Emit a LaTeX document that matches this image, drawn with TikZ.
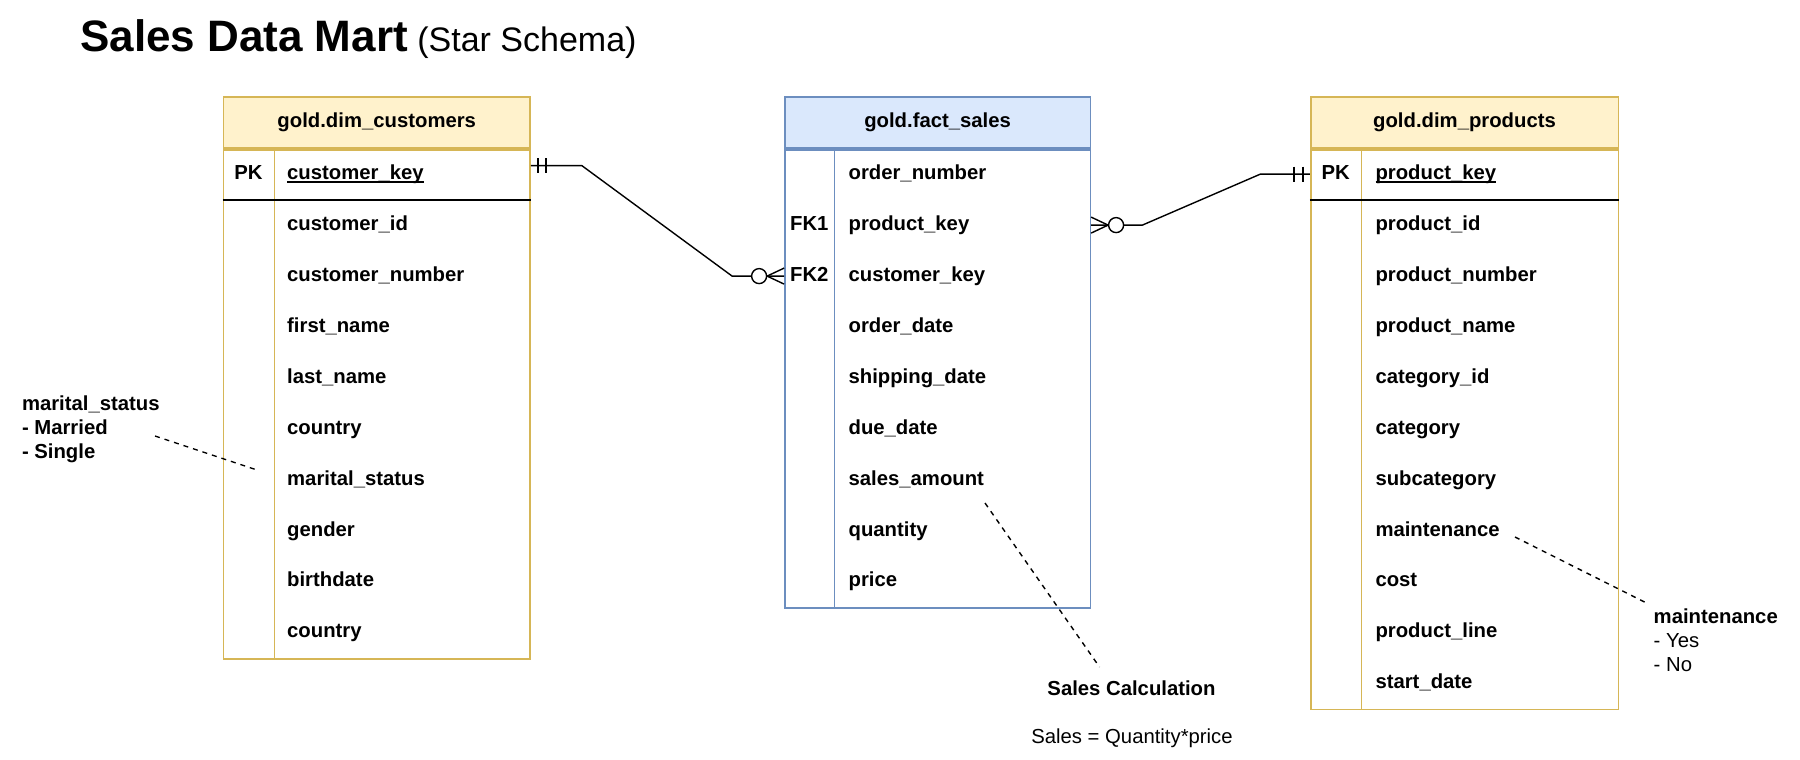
\documentclass[tikz,border=0pt]{standalone}
\usepackage{fontspec}
\setmainfont{Liberation Sans}
\usetikzlibrary{calc}
\definecolor{dimline}{HTML}{D6B656}
\definecolor{dimfill}{HTML}{FFF2CC}
\definecolor{factline}{HTML}{6C8EBF}
\definecolor{factfill}{HTML}{DAE8FC}
\newcommand{\fieldfont}{\fontsize{20.3}{24}\selectfont\bfseries}
\newcommand{\plainfont}{\fontsize{20.3}{24}\selectfont}
\newcommand{\pkul}[1]{\setbox0=\hbox{#1}\rlap{\rule[-2.9pt]{\wd0}{1.3pt}}\box0}

\begin{document}
\begin{tikzpicture}[x=1pt,y=-1pt,
  hdr/.style={anchor=north west,minimum height=50.9pt,inner sep=0pt,font=\fieldfont,line width=1.6pt},
  body/.style={anchor=north west,inner sep=0pt,line width=1.6pt,fill=white},
  fld/.style={anchor=base west,inner sep=0pt,font=\fieldfont},
  keylbl/.style={anchor=base,inner sep=0pt,font=\fieldfont},
  rel/.style={line width=1.4pt},
  notes/.style={line width=1.4pt,dash pattern=on 5pt off 5pt}]
\useasboundingbox (0,0) rectangle (1800,760);

% title
\node[anchor=base west,inner sep=0pt] (title) at (80,51.5)
  {{\fontsize{44}{50}\selectfont\bfseries Sales Data Mart}{\fontsize{34}{40}\selectfont\ (Star Schema)}};

% customers
\node[hdr,draw=dimline,fill=dimfill,minimum width=306.5pt] (cust) at (222.7,96.4) {gold.dim\_customers};
\node[body,draw=dimline,minimum width=306.5pt,minimum height=509pt] (custbody) at (cust.south west) {};
\draw[dimline,line width=1.6pt] ($(custbody.north west)+(51.7,0)$) -- ($(custbody.south west)+(51.7,0)$);
\draw[line width=1.8pt] ($(custbody.north west)+(0,50.9)$) -- ($(custbody.north east)+(0,50.9)$);
\node[keylbl] (ckey) at (248.5,179.7) {PK};
\foreach \f [count=\i] in {\pkul{customer\_key},customer\_id,customer\_number,first\_name,last\_name,country,marital\_status,gender,birthdate,country}
  \node[fld] (c\i) at (287,{128.8+50.9*\i}) {\f};

% fact
\node[hdr,draw=factline,fill=factfill,minimum width=305.4pt] (fact) at (784.1,96.4) {gold.fact\_sales};
\node[body,draw=factline,minimum width=305.4pt,minimum height=458.1pt] (factbody) at (fact.south west) {};
\draw[factline,line width=1.6pt] ($(factbody.north west)+(50.5,0)$) -- ($(factbody.south west)+(50.5,0)$);
\node[keylbl] (fk1) at (809.3,230.6) {FK1};
\node[keylbl] (fk2) at (809.3,281.5) {FK2};
\foreach \f [count=\i] in {order\_number,product\_key,customer\_key,order\_date,shipping\_date,due\_date,sales\_amount,quantity,price}
  \node[fld] (f\i) at (848.4,{128.8+50.9*\i}) {\f};

% products
\node[hdr,draw=dimline,fill=dimfill,minimum width=307.6pt] (prod) at (1309.9,96.4) {gold.dim\_products};
\node[body,draw=dimline,minimum width=307.6pt,minimum height=559.9pt] (prodbody) at (prod.south west) {};
\draw[dimline,line width=1.6pt] ($(prodbody.north west)+(51.6,0)$) -- ($(prodbody.south west)+(51.6,0)$);
\draw[line width=1.8pt] ($(prodbody.north west)+(0,50.9)$) -- ($(prodbody.north east)+(0,50.9)$);
\node[keylbl] (pkey) at (1335.7,179.7) {PK};
\foreach \f [count=\i] in {\pkul{product\_key},product\_id,product\_number,product\_name,category\_id,category,subcategory,maintenance,cost,product\_line,start\_date}
  \node[fld] (p\i) at (1375.3,{128.8+50.9*\i}) {\f};

% relations
\coordinate (custR) at ($(custbody.north east)+(0,16.7)$);
\coordinate (factL) at ($(factbody.north west)+(0,127.2)$);
\coordinate (factR) at ($(factbody.north east)+(0,76.2)$);
\coordinate (prodL) at ($(prodbody.north west)+(0,25.2)$);
\draw[rel] (custR) -- ++(51,0) -- ($(factL)+(-52,0)$) -- (factL);
\draw[rel] ($(custR)+(7,-7.5)$) -- ++(0,15) ($(custR)+(15,-7.5)$) -- ++(0,15);
\draw[rel] ($(factL)+(-17,0)$) -- ($(factL)+(0,-8)$) ($(factL)+(-17,0)$) -- ($(factL)+(0,8)$);
\draw[rel,fill=white] ($(factL)+(-25,0)$) circle (7.5pt);
\draw[rel] (factR) -- ++(51.3,0) -- ($(prodL)+(-49.5,0)$) -- (prodL);
\draw[rel] ($(factR)+(17,0)$) -- ($(factR)+(0,-8)$) ($(factR)+(17,0)$) -- ($(factR)+(0,8)$);
\draw[rel,fill=white] ($(factR)+(25,0)$) circle (7.5pt);
\draw[rel] ($(prodL)+(-16,-7.5)$) -- ++(0,15) ($(prodL)+(-7,-7.5)$) -- ++(0,15);

% notes
\node[anchor=base west,inner sep=0pt,align=left,font=\fieldfont] (msnote) at (21.8,458) {marital\_status\\- Married\\- Single};
\coordinate (msA) at (155,436);
\coordinate (msB) at (257,470);
\draw[notes] (msA) -- (msB);
\coordinate (calcA) at (985,503);
\coordinate (calcB) at (1099.5,667);
\draw[notes] (calcA) -- (calcB);
\node[anchor=base,inner sep=0pt,font=\fieldfont] (calcnote) at (1131.5,695.3) {Sales Calculation};
\node[anchor=base,inner sep=0pt,font=\plainfont] (calcform) at (1132,743.5) {Sales = Quantity*price};
\coordinate (mA) at (1515,537);
\coordinate (mB) at (1647.5,603.5);
\draw[notes] (mA) -- (mB);
\node[anchor=base west,inner sep=0pt,align=left,font=\plainfont] (mnote) at (1653.5,671.8) {\textbf{maintenance}\\- Yes\\- No};
\end{tikzpicture}
\end{document}
